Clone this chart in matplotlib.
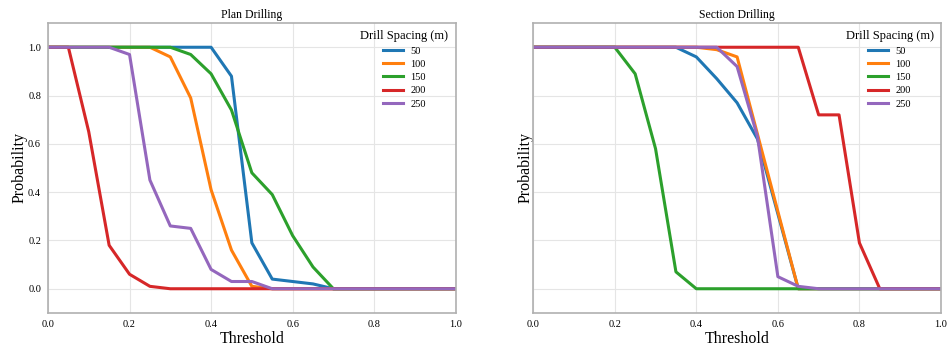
import matplotlib
matplotlib.use("Agg")
import matplotlib.pyplot as plt

threshold = [round(0.05 * i, 2) for i in range(21)]
spacings = ["50", "100", "150", "200", "250"]

plan = {
    "50":  [1, 1, 1, 1, 1, 1, 1, 1, 1, 0.88, 0.19, 0.04, 0.03, 0.02, 0, 0, 0, 0, 0, 0, 0],
    "100": [1, 1, 1, 1, 1, 1, 0.96, 0.79, 0.41, 0.16, 0.01, 0, 0, 0, 0, 0, 0, 0, 0, 0, 0],
    "150": [1, 1, 1, 1, 1, 1, 1, 0.97, 0.89, 0.74, 0.48, 0.39, 0.22, 0.09, 0, 0, 0, 0, 0, 0, 0],
    "200": [1, 1, 0.65, 0.18, 0.06, 0.01, 0, 0, 0, 0, 0, 0, 0, 0, 0, 0, 0, 0, 0, 0, 0],
    "250": [1, 1, 1, 1, 0.97, 0.45, 0.26, 0.25, 0.08, 0.03, 0.03, 0, 0, 0, 0, 0, 0, 0, 0, 0, 0],
}

section = {
    "50":  [1, 1, 1, 1, 1, 1, 1, 1, 0.96, 0.87, 0.77, 0.62, 0.31, 0, 0, 0, 0, 0, 0, 0, 0],
    "100": [1, 1, 1, 1, 1, 1, 1, 1, 1, 0.99, 0.96, 0.64, 0.32, 0, 0, 0, 0, 0, 0, 0, 0],
    "150": [1, 1, 1, 1, 1, 0.89, 0.58, 0.07, 0, 0, 0, 0, 0, 0, 0, 0, 0, 0, 0, 0, 0],
    "200": [1, 1, 1, 1, 1, 1, 1, 1, 1, 1, 1, 1, 1, 1, 0.72, 0.72, 0.19, 0, 0, 0, 0],
    "250": [1, 1, 1, 1, 1, 1, 1, 1, 1, 1, 0.92, 0.63, 0.05, 0.01, 0, 0, 0, 0, 0, 0, 0],
}

colors = ["#1f77b4", "#ff7f0e", "#2ca02c", "#d62728", "#9467bd"]

plt.rcParams["font.family"] = ["Liberation Serif", "DejaVu Serif"]

fig, axes = plt.subplots(1, 2, figsize=(9.5, 3.5), dpi=100, sharey=True)
fig.subplots_adjust(left=0.0505, right=0.9905, bottom=0.106, top=0.934, wspace=0.19)

for ax, data, title in zip(axes, [plan, section], ["Plan Drilling", "Section Drilling"]):
    for s, c in zip(spacings, colors):
        ax.plot(threshold, data[s], color=c, linewidth=2.2, label=s)
    ax.set_xlim(0, 1)
    ax.set_ylim(-0.1, 1.1)
    ax.set_xticks([0, 0.2, 0.4, 0.6, 0.8, 1.0])
    ax.set_yticks([0, 0.2, 0.4, 0.6, 0.8, 1.0])
    ax.grid(True, color="#e5e5e5", linewidth=0.8)
    ax.set_axisbelow(True)
    for sp in ax.spines.values():
        sp.set_color("#b0b0b0")
        sp.set_linewidth(1.2)
    ax.tick_params(length=0, labelsize=7.5, pad=5)
    ax.set_title(title, fontsize=8.5, pad=4)
    ax.set_xlabel("Threshold", fontsize=11.5, labelpad=1.5)
    ax.set_ylabel("Probability", fontsize=11.5, labelpad=0)
    ax.legend(title="Drill Spacing (m)", loc="upper right", frameon=False,
              fontsize=7.5, title_fontsize=9, handlelength=1.9,
              handletextpad=0.7, labelspacing=0.38, borderaxespad=0.3)

axes[1].tick_params(labelleft=False)

fig.savefig("out.png")
